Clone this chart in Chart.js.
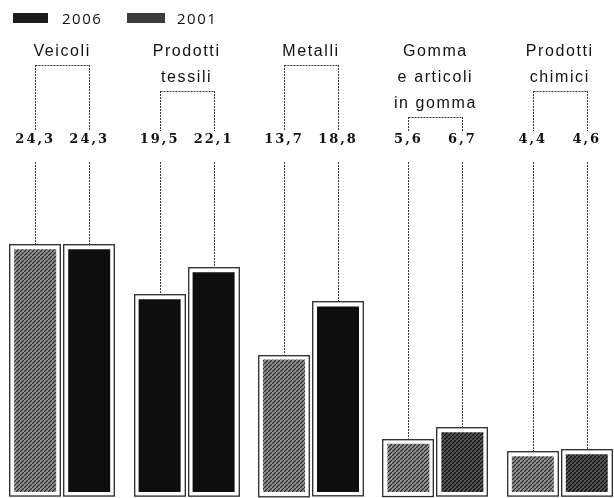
<!DOCTYPE html>
<html><head><meta charset="utf-8">
<script src="https://cdn.jsdelivr.net/npm/chart.js@4/dist/chart.umd.min.js"></script>
<style>
html,body{margin:0;padding:0;background:#fff;overflow:hidden;width:614px;height:498px;}
#wrap{position:absolute;left:0;top:0;width:622px;height:498px;}
#legend{position:absolute;left:0;top:0;font-family:"Open Sans";font-size:15px;color:#111;}
.sw{position:absolute;top:13px;height:10px;}
.lt{position:absolute;top:8px;letter-spacing:1.5px;line-height:20px;}
</style></head>
<body>
<div id="wrap"><canvas id="c" width="622" height="498"></canvas></div>
<div id="legend"></div>
<script>
// ---- data ----
const categories = [['Veicoli'], ['Prodotti', 'tessili'], ['Metalli'], ['Gomma', 'e articoli', 'in gomma'], ['Prodotti', 'chimici']];
const seriesLabels = ['2006', '2001'];
const series2006 = [24.3, 19.5, 13.7, 5.6, 4.4];
const series2001 = [24.3, 22.1, 18.8, 6.7, 4.6];

// ---- styles ----
const canvas = document.getElementById('c');
const mainCtx = canvas.getContext('2d');
function hatch(bg, fg) {
  const c = document.createElement('canvas');
  c.width = 4; c.height = 4;
  const x = c.getContext('2d');
  x.fillStyle = bg; x.fillRect(0, 0, 4, 4);
  x.strokeStyle = fg; x.lineWidth = 1.2;
  x.beginPath(); x.moveTo(-1, 5); x.lineTo(5, -1); x.stroke();
  return mainCtx.createPattern(c, 'repeat');
}
const grayH = hatch('#929292', '#262626');
const darkH = hatch('#555555', '#0e0e0e');
const black = '#0e0e0e';
const fill2006 = [grayH, black, grayH, grayH, grayH];
const fill2001 = [black, black, black, darkH, darkH];
const legendSwatches = ['#1c1c1c', '#3c3c3c'];

// legend (HTML text)
const lg = document.getElementById('legend');
const swLeft = [13, 127], swW = [35, 38], txLeft = [62, 177];
seriesLabels.forEach((s, i) => {
  const sw = document.createElement('div');
  sw.className = 'sw'; sw.style.left = swLeft[i] + 'px'; sw.style.width = swW[i] + 'px'; sw.style.background = legendSwatches[i];
  lg.appendChild(sw);
  const t = document.createElement('span');
  t.className = 'lt'; t.style.left = txLeft[i] + 'px'; t.textContent = s;
  lg.appendChild(t);
});

const fmt = v => v.toFixed(1).replace('.', ',');
const LINE = 26;

const annot = {
  id: 'annot',
  afterDatasetsDraw(chart) {
    const ctx = chart.ctx;
    const m0 = chart.getDatasetMeta(0), m1 = chart.getDatasetMeta(1);
    const xs = chart.scales.x;
    ctx.save();
    // bar frames
    [m0, m1].forEach(m => m.data.forEach(b => {
      const p = b.getProps(['x', 'y', 'base', 'width'], true);
      ctx.strokeStyle = '#2a2a2a'; ctx.lineWidth = 1.3;
      ctx.strokeRect(Math.round(p.x - p.width / 2) + 0.7, Math.round(p.y) + 0.7, Math.round(p.width) - 1.4, p.base - p.y - 1.4);
    }));
    categories.forEach((lines, i) => {
      const cx = xs.getPixelForValue(i);
      ctx.fillStyle = '#111';
      ctx.font = '16px "Liberation Sans"';
      ctx.letterSpacing = '1.6px';
      ctx.textAlign = 'center'; ctx.textBaseline = 'middle';
      lines.forEach((t, k) => ctx.fillText(t, cx, 52 + k * LINE));
      const by = 65 + (lines.length - 1) * LINE;
      const b0 = m0.data[i], b1 = m1.data[i];
      const x0 = Math.round(b0.x) + 0.5, x1 = Math.round(b1.x) + 0.5;
      ctx.strokeStyle = '#3a3a3a'; ctx.lineWidth = 1; ctx.setLineDash([2, 1]);
      ctx.beginPath();
      ctx.moveTo(x0, by + 0.5); ctx.lineTo(x1, by + 0.5);
      [[x0, b0], [x1, b1]].forEach(([x, b]) => {
        ctx.moveTo(x, by); ctx.lineTo(x, 131);
        ctx.moveTo(x, 162); ctx.lineTo(x, b.y);
      });
      ctx.stroke();
      ctx.setLineDash([]);
      ctx.font = 'bold 13px "DejaVu Serif"';
      ctx.letterSpacing = '2px';
      ctx.fillText(fmt(series2006[i]), b0.x, 140);
      ctx.fillText(fmt(series2001[i]), b1.x, 140);
    });
    ctx.restore();
  }
};

new Chart(canvas, {
  type: 'bar',
  data: {
    labels: categories,
    datasets: [
      { label: seriesLabels[0], data: series2006, backgroundColor: fill2006, borderColor: '#ffffff', borderWidth: 5, borderSkipped: false },
      { label: seriesLabels[1], data: series2001, backgroundColor: fill2001, borderColor: '#ffffff', borderWidth: 5, borderSkipped: false }
    ]
  },
  options: {
    responsive: false,
    animation: false,
    devicePixelRatio: 1,
    layout: { padding: { top: 185, bottom: 1, left: 0, right: 0 } },
    categoryPercentage: 0.868,
    barPercentage: 0.963,
    plugins: { legend: { display: false }, tooltip: { enabled: false } },
    scales: {
      x: { display: false },
      y: { display: false, min: 0, max: 30 }
    }
  },
  plugins: [annot]
});
</script>
</body></html>
